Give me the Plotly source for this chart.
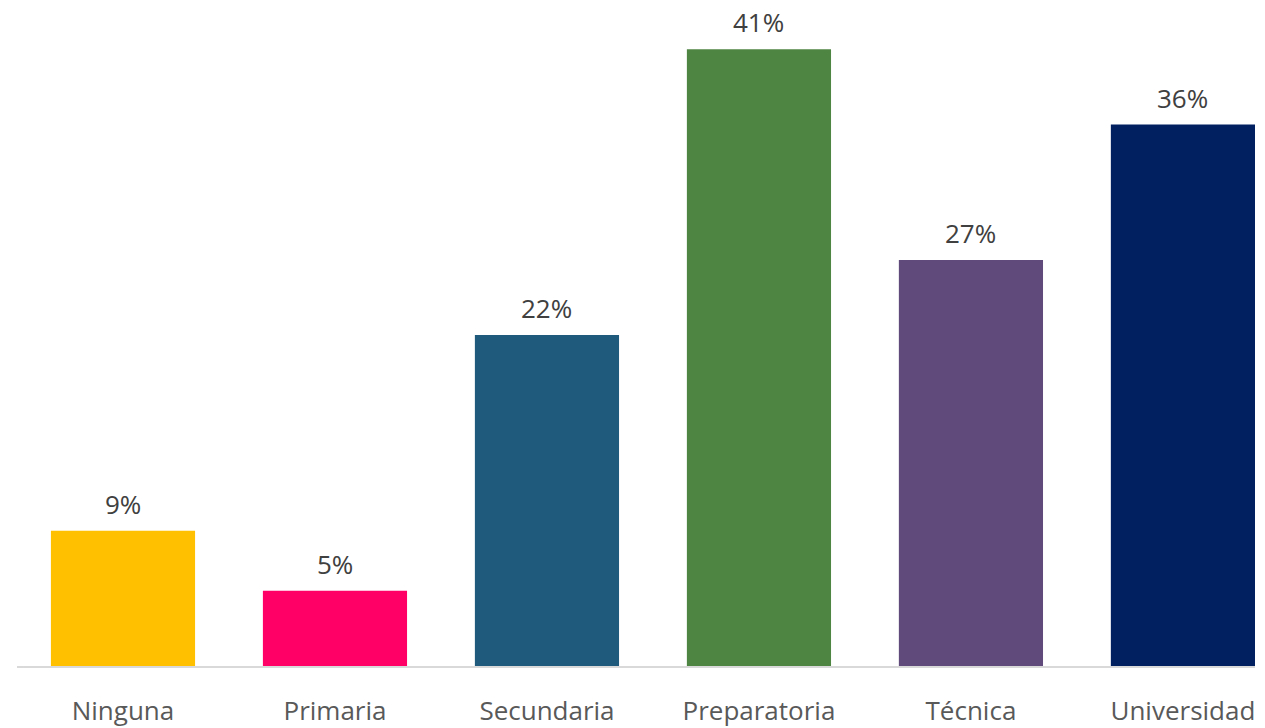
import plotly.graph_objects as go

categories = ["Ninguna", "Primaria", "Secundaria", "Preparatoria", "Técnica", "Universidad"]
values = [9, 5, 22, 41, 27, 36]
labels = [f"{v}%" for v in values]
colors = ["#FFC000", "#FF0066", "#1F5A7C", "#4E8542", "#604A7B", "#002060"]

fig = go.Figure(go.Bar(
    x=categories, y=values,
    marker=dict(color=colors, line=dict(width=0)),
    width=0.68,
    cliponaxis=False,
    hoverinfo="x+y",
))

for c, v, t in zip(categories, values, labels):
    fig.add_annotation(
        x=c, y=v, text=t, showarrow=False,
        yanchor="bottom", yshift=7,
        font=dict(family="Open Sans", size=26, color="#404040"),
    )

fig.update_layout(
    width=1249, height=720,
    margin=dict(l=9, r=2, t=0, b=55),
    paper_bgcolor="white", plot_bgcolor="white",
    showlegend=False,
    xaxis=dict(
        range=[-0.5, 5.34],
        showline=True, linecolor="#D9D9D9", linewidth=2,
        showgrid=False, zeroline=False,
        ticks="outside", ticklen=21, tickcolor="rgba(0,0,0,0)",
        tickfont=dict(family="Open Sans", size=26, color="#595959"),
    ),
    yaxis=dict(
        range=[0, 43.75],
        visible=False, showgrid=False, zeroline=False,
    ),
)

fig.write_html("out.html")
